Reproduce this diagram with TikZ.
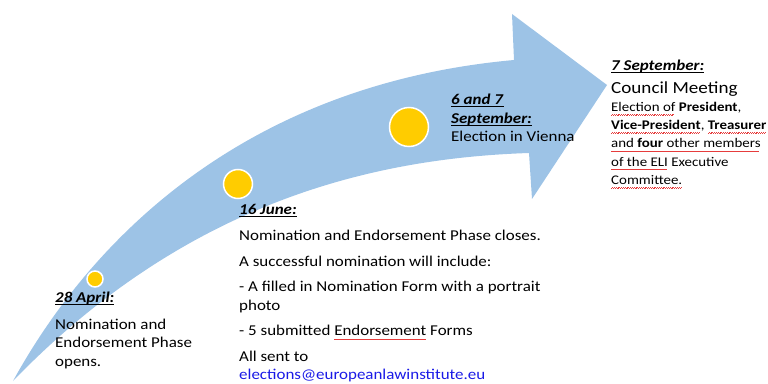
\documentclass[tikz,border=0pt]{standalone}
\usepackage{fontspec}
\setmainfont{Carlito}[FakeStretch=1.13]
\definecolor{arrowblue}{RGB}{157,195,230}
\definecolor{dotyellow}{RGB}{255,204,0}
\definecolor{linkblue}{RGB}{25,25,230}
\definecolor{waved}{RGB}{230,60,60}
\newcommand\hd[1]{\setbox0\hbox{\textbf{\textit{#1}}}\rlap{\rule[-2.2pt]{\wd0}{0.9pt}}\box0\relax}
\newcommand\redwave[1]{\setbox0\hbox{#1}\rlap{\textcolor{waved}{\hbox to\wd0{\leaders\hbox{\rule[-3.8pt]{0.9pt}{0.6pt}\rule[-3.2pt]{0.9pt}{0.6pt}}\hfill}}}\box0\relax}
\tikzset{
  dot/.style={circle, fill=dotyellow, draw=white, line width=1.5pt, inner sep=0pt},
  txt/.style={anchor=north west, inner sep=0pt, align=left, font=\fontsize{15}{18.5}\selectfont},
  rtxt/.style={anchor=north west, inner sep=0pt, align=left, font=\fontsize{13.2}{18.3}\selectfont}
}
\begin{document}
\begin{tikzpicture}[x=1pt,y=1pt]
\useasboundingbox (0,0) rectangle (768,383);
% curved arrow
\fill[arrowblue] (13,2) .. controls (100,160) and (260,300) .. (514,323)
  -- (512,369) -- (607,298) -- (532,184) -- (529,230)
  .. controls (380,225) and (190,185) .. (13,2) -- cycle;
% dots
\node[dot, minimum size=16pt] (d1) at (95,104) {};
\node[dot, minimum size=29pt] (d2) at (238,199) {};
\node[dot, minimum size=39pt] (d3) at (409,256) {};
% texts
\node[txt] (april) at (55,91) {\hd{28 April:}\\[8pt]
  Nomination and\\ Endorsement Phase\\ opens.};
\node[txt] (june) at (239,179) {\hd{16 June:}\\[7.5pt]
  Nomination and Endorsement Phase closes.\\[7.5pt]
  A successful nomination will include:\\[7pt]
  - A filled in Nomination Form with a portrait\\ photo\\[7pt]
  - 5 submitted \redwave{Endorsement} Forms\\[7pt]
  All sent to\\ \textcolor{linkblue}{elections@europeanlawinstitute.eu}};
\node[txt] (vienna) at (451,289) {\hd{6 and 7}\\ \hd{September:}\\ Election in Vienna};
\node[rtxt] (council) at (611,323) {{\fontsize{15}{18}\selectfont\hd{7 September:}}\\[4pt]
  {\fontsize{16.9}{21}\selectfont Council Meeting}\\
  \redwave{Election of} \textbf{President},\\
  \redwave{\textbf{Vice-President}}, \redwave{\textbf{Treasurer}}\\
  \redwave{and \textbf{four} other members}\\
  \redwave{of the ELI} Executive\\
  \redwave{Committee.}};
\end{tikzpicture}
\end{document}
